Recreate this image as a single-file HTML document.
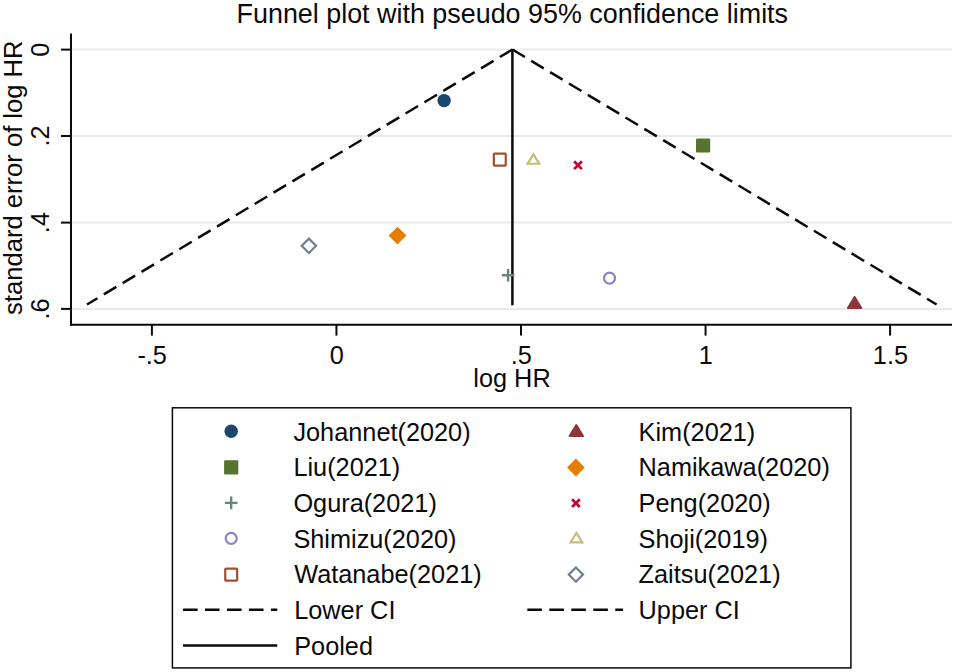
<!DOCTYPE html>
<html>
<head>
<meta charset="utf-8">
<title>Funnel plot</title>
<style>
html,body{margin:0;padding:0;background:#fff;}
body{width:955px;height:672px;overflow:hidden;font-family:"Liberation Sans",sans-serif;}
svg{display:block;}
text{font-family:"Liberation Sans",sans-serif;fill:#0a0a0a;}
</style>
</head>
<body>
<svg width="955" height="672" viewBox="0 0 955 672">
<rect x="0" y="0" width="955" height="672" fill="#ffffff"/>
<text transform="translate(512.3,22.8) scale(1,1.06)" font-size="26.9" text-anchor="middle">Funnel plot with pseudo 95% confidence limits</text>
<g stroke="#e7ebee" stroke-width="2">
<line x1="71.0" y1="49.6" x2="952" y2="49.6"/>
<line x1="71.0" y1="136.0" x2="952" y2="136.0"/>
<line x1="71.0" y1="222.6" x2="952" y2="222.6"/>
<line x1="71.0" y1="308.9" x2="952" y2="308.9"/>
</g>
<g stroke="#0a0a0a" stroke-width="2.5" fill="none">
<line x1="512.4" y1="49.5" x2="87.0" y2="304.5" stroke-dasharray="14.6 7.39"/>
<line x1="512.4" y1="49.5" x2="936.6" y2="304.5" stroke-dasharray="14.6 7.39"/>
<line x1="512.4" y1="48.9" x2="512.4" y2="305.2"/>
</g>
<g stroke="#0a0a0a" stroke-width="2" fill="none">
<line x1="71.0" y1="33.6" x2="71.0" y2="325.7"/>
<line x1="70.0" y1="324.7" x2="952" y2="324.7"/>
<line x1="61" y1="49.6" x2="71.0" y2="49.6"/>
<line x1="61" y1="136.0" x2="71.0" y2="136.0"/>
<line x1="61" y1="222.6" x2="71.0" y2="222.6"/>
<line x1="61" y1="308.9" x2="71.0" y2="308.9"/>
<line x1="151.9" y1="324.7" x2="151.9" y2="335.6"/>
<line x1="336.45" y1="324.7" x2="336.45" y2="335.6"/>
<line x1="521.0" y1="324.7" x2="521.0" y2="335.6"/>
<line x1="705.55" y1="324.7" x2="705.55" y2="335.6"/>
<line x1="890.1" y1="324.7" x2="890.1" y2="335.6"/>
</g>
<g font-size="25.3" text-anchor="middle">
<text transform="translate(49.2,49.6) rotate(-90)">0</text>
<text transform="translate(49.2,136.0) rotate(-90)">.2</text>
<text transform="translate(49.2,222.6) rotate(-90)">.4</text>
<text transform="translate(49.2,308.9) rotate(-90)">.6</text>
<text transform="translate(21.8,177.7) rotate(-90)" font-size="25.6">standard error of log HR</text>
<text x="152.20000000000002" y="363.8">-.5</text>
<text x="336.75" y="363.8">0</text>
<text x="521.3" y="363.8">.5</text>
<text x="705.8499999999999" y="363.8">1</text>
<text x="890.4" y="363.8">1.5</text>
<text x="512" y="387.1">log HR</text>
</g>
<circle cx="444.1" cy="100.6" r="6.7" fill="#1a476f"/>
<rect x="696.00" y="138.40" width="14.2" height="14.2" rx="1" fill="#55752f"/>
<rect x="493.85" y="153.65" width="11.9" height="11.9" rx="0.6" fill="none" stroke="#a24e30" stroke-width="2.2"/>
<path d="M533.4 154.33 L539.26 163.75 L527.54 163.75 Z" fill="none" stroke="#c3be7a" stroke-width="2.2" stroke-linejoin="miter"/>
<path d="M574.10 161.30 L581.90 169.10 M581.90 161.30 L574.10 169.10" stroke="#c10534" stroke-width="2.7" fill="none"/>
<path d="M397.5 226.70 L406.40 235.6 L397.5 244.50 L388.60 235.6 Z" fill="#e37e00"/>
<path d="M308.9 238.65 L316.05 245.8 L308.9 252.95 L301.75 245.8 Z" fill="none" stroke="#717e92" stroke-width="2.2"/>
<path d="M501.80 275.2 H514.40 M508.1 268.90 V281.50" stroke="#66857b" stroke-width="2.4" fill="none"/>
<circle cx="609.5" cy="278.2" r="5.5" fill="none" stroke="#8a83ca" stroke-width="2.2"/>
<path d="M854.6 296.90 L861.30 307.90 L847.90 307.90 Z" fill="#90353b" stroke="#90353b" stroke-width="2" stroke-linejoin="round"/>
<rect x="172.4" y="407.8" width="678.5" height="260.1" fill="#fff" stroke="#0a0a0a" stroke-width="1.5"/>
<g font-size="25.3">
<text x="293.4" y="440.8">Johannet(2020)</text>
<text x="293.4" y="476.4">Liu(2021)</text>
<text x="293.4" y="512.1">Ogura(2021)</text>
<text x="293.4" y="547.8">Shimizu(2020)</text>
<text x="294.2" y="583.4">Watanabe(2021)</text>
<text x="294.2" y="619.0">Lower CI</text>
<text x="294.2" y="654.7">Pooled</text>
<text x="638.6" y="440.8">Kim(2021)</text>
<text x="638.6" y="476.4">Namikawa(2020)</text>
<text x="638.6" y="512.1">Peng(2020)</text>
<text x="638.6" y="547.8">Shoji(2019)</text>
<text x="638.6" y="583.4">Zaitsu(2021)</text>
<text x="638.6" y="619.0">Upper CI</text>
</g>
<circle cx="231.2" cy="431.2" r="6.7" fill="#1a476f"/>
<rect x="224.10" y="460.20" width="14.2" height="14.2" rx="1" fill="#55752f"/>
<path d="M224.90 502.90000000000003 H237.50 M231.2 496.60 V509.20" stroke="#66857b" stroke-width="2.4" fill="none"/>
<circle cx="231.2" cy="538.3" r="5.5" fill="none" stroke="#8a83ca" stroke-width="2.2"/>
<rect x="225.25" y="568.65" width="11.9" height="11.9" rx="0.6" fill="none" stroke="#a24e30" stroke-width="2.2"/>
<line x1="183" y1="609.7" x2="277.3" y2="609.7" stroke="#0a0a0a" stroke-width="2.5" stroke-dasharray="14.6 7.39"/>
<line x1="183" y1="645.4" x2="277.3" y2="645.4" stroke="#0a0a0a" stroke-width="2.5"/>
<path d="M576.3 425.10 L583.00 436.10 L569.60 436.10 Z" fill="#90353b" stroke="#90353b" stroke-width="2" stroke-linejoin="round"/>
<path d="M575.9 458.60 L584.80 467.5 L575.9 476.40 L567.00 467.5 Z" fill="#e37e00"/>
<path d="M572.00 499.20 L579.80 507.00 M579.80 499.20 L572.00 507.00" stroke="#c10534" stroke-width="2.7" fill="none"/>
<path d="M576.4 532.88 L582.26 542.30 L570.54 542.30 Z" fill="none" stroke="#c3be7a" stroke-width="2.2" stroke-linejoin="miter"/>
<path d="M575.9 567.45 L583.05 574.6 L575.9 581.75 L568.75 574.6 Z" fill="none" stroke="#717e92" stroke-width="2.2"/>
<line x1="527.3" y1="609.7" x2="623" y2="609.7" stroke="#0a0a0a" stroke-width="2.5" stroke-dasharray="14.6 7.39"/>
</svg>
</body>
</html>
